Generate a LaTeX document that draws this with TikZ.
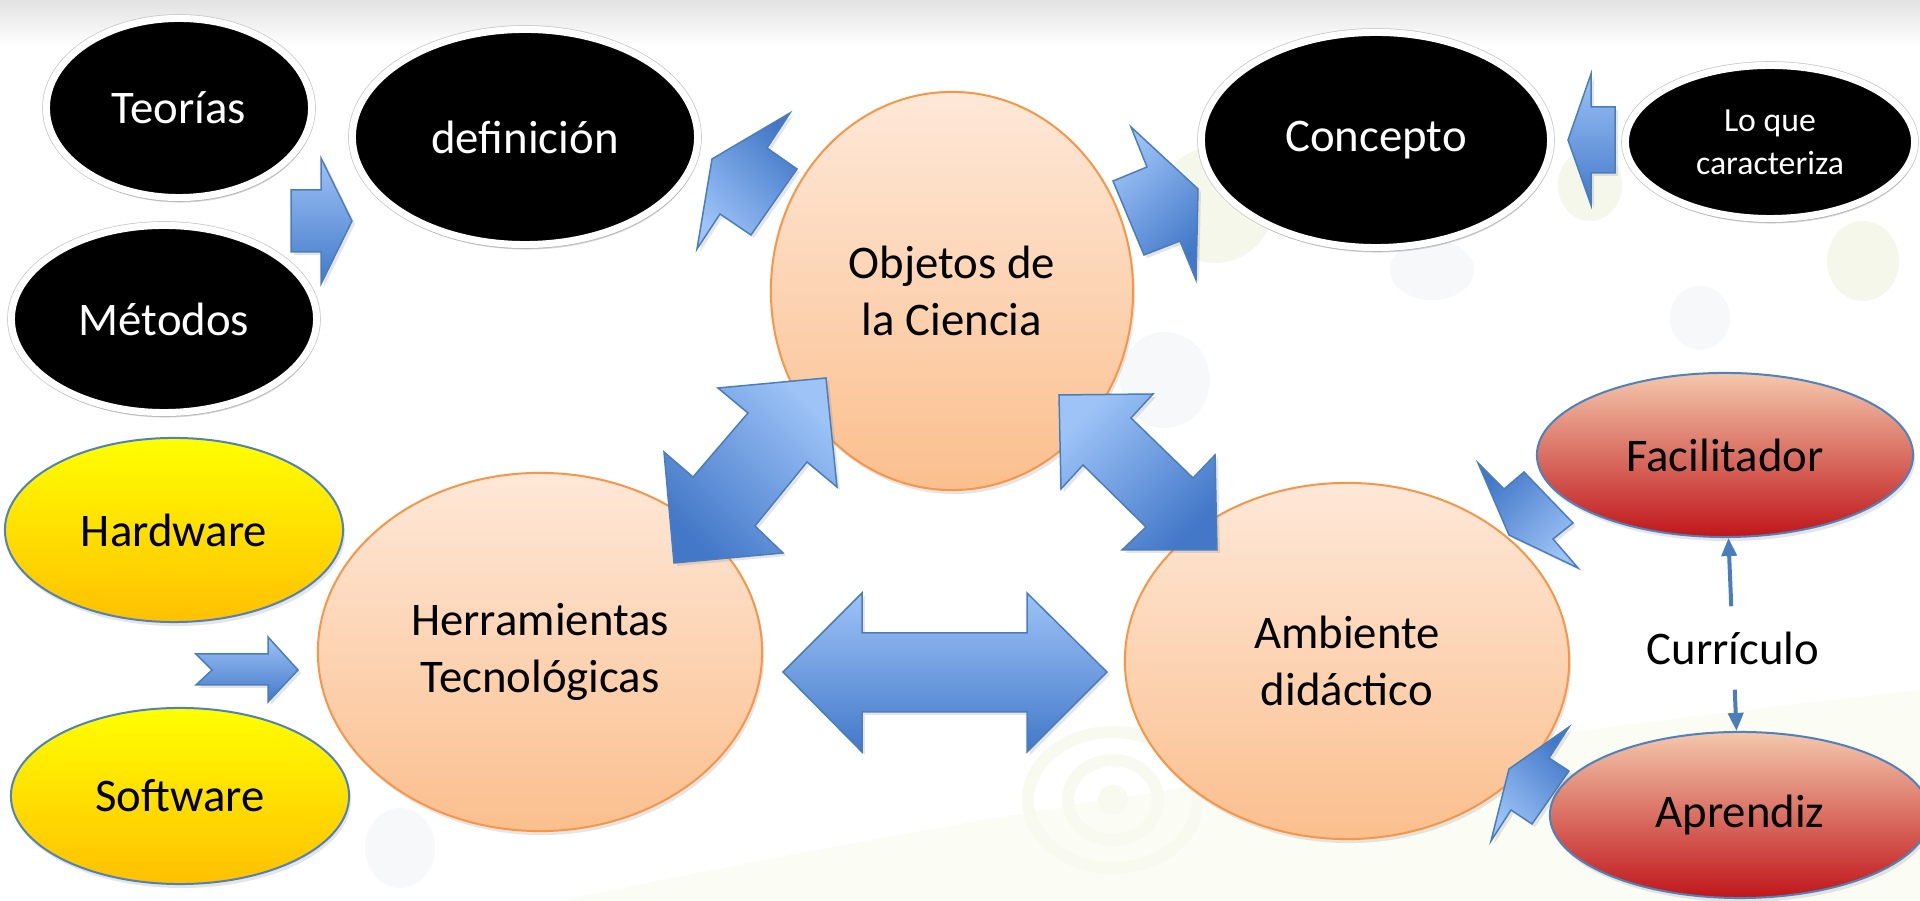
\documentclass[tikz,border=0pt]{standalone}
\usepackage{fontspec}
\setmainfont{Carlito}
\usetikzlibrary{shapes.geometric,shadows,arrows.meta}
\definecolor{arrowlight}{HTML}{9DC3F7}
\definecolor{arrowdark}{HTML}{4378C8}
\definecolor{arrowline}{HTML}{4A7EBB}
\definecolor{orangeline}{HTML}{F79646}
\definecolor{orangetop}{HTML}{FEE8D8}
\definecolor{orangebot}{HTML}{FBBF8E}
\definecolor{yellowtop}{HTML}{FFFF00}
\definecolor{yellowbot}{HTML}{FFC000}
\definecolor{blueline}{HTML}{4F81BD}
\definecolor{redtop}{HTML}{F4C8AC}
\definecolor{redbot}{HTML}{C0161A}
\definecolor{bgreen}{HTML}{F5F7EA}
\definecolor{bgray}{HTML}{F7F8FA}
\definecolor{bring}{HTML}{F8FAF0}
\definecolor{bswoosh}{HTML}{FBFCF4}
\definecolor{topgray}{HTML}{E2E2E2}
\begin{document}
\begin{tikzpicture}[x=0.01cm,y=-0.01cm,
  txt/.style={font=\fontsize{13.3}{16}\selectfont, align=center},
  blackell/.style={ellipse, txt, fill=black, draw=white, line width=0.07cm, text=white, inner sep=0pt,
    preaction={draw=black!22, line width=0.085cm},
    drop shadow={shadow xshift=0.015cm, shadow yshift=-0.05cm, opacity=0.3}},
  orangeell/.style={ellipse, txt, top color=orangetop, bottom color=orangebot, draw=orangeline,
    line width=0.02cm, inner sep=0pt, drop shadow={shadow xshift=0.02cm, shadow yshift=-0.04cm, opacity=0.2}},
  yellowell/.style={ellipse, txt, top color=yellowtop, bottom color=yellowbot, draw=blueline,
    line width=0.02cm, inner sep=0pt, drop shadow={shadow xshift=0.02cm, shadow yshift=-0.04cm, opacity=0.2}},
  redell/.style={ellipse, txt, top color=redtop, bottom color=redbot, draw=blueline,
    line width=0.02cm, inner sep=0pt, drop shadow={shadow xshift=0.02cm, shadow yshift=-0.04cm, opacity=0.2}},
  blockarr/.style={draw=arrowline, line width=0.015cm, line join=miter,
    drop shadow={shadow xshift=0.03cm, shadow yshift=-0.03cm, opacity=0.2}},
  thinarr/.style={draw=arrowline, line width=0.04cm, -{Triangle[length=0.18cm,width=0.15cm]}}
]
% background
\useasboundingbox (0,0) rectangle (1920,901);
\fill[white] (0,0) rectangle (1920,901);
\shade[top color=topgray, bottom color=white] (0,0) rectangle (1920,45);
\fill[bswoosh] (560,901) .. controls (900,830) and (1300,760) .. (1920,690) -- (1920,901) -- cycle;
\fill[bgreen] (1215,205) ellipse (58 and 58);
\fill[bgray] (1432,270) ellipse (42 and 30);
\fill[bgreen] (1590,185) ellipse (32 and 36);
\fill[bgray] (1700,318) ellipse (30 and 32);
\fill[bgreen] (1863,261) ellipse (36 and 40);
\fill[bgray] (1165,380) ellipse (45 and 48);
\fill[bgray] (400,848) ellipse (35 and 40);
\draw[bring, line width=0.12cm] (1113,800) ellipse (85 and 68);
\draw[bring, line width=0.12cm] (1113,800) ellipse (45 and 40);
\fill[bring] (1113,800) ellipse (15 and 15);

% nodes
\node[blackell, minimum width=2.65cm, minimum height=1.79cm] (teo) at (179,108) {Teorías};
\node[blackell, minimum width=3.45cm, minimum height=2.15cm] (defi) at (525,137) {definición};
\node[blackell, minimum width=3.05cm, minimum height=1.87cm] (met) at (164,319) {Métodos};
\node[blackell, minimum width=3.49cm, minimum height=2.15cm] (con) at (1376,140) {Concepto};
\node[blackell, minimum width=2.89cm, minimum height=1.53cm, font=\fontsize{9.6}{12.2}\selectfont] (loq) at (1770,142) {Lo que\\caracteriza};
\node[orangeell, minimum width=3.62cm, minimum height=3.98cm] (obj) at (952,291) {Objetos de\\la Ciencia};
\node[orangeell, minimum width=4.44cm, minimum height=3.58cm] (her) at (540,652) {Herramientas\\Tecnológicas};
\node[orangeell, minimum width=4.44cm, minimum height=3.56cm] (amb) at (1347,661) {Ambiente\\didáctico};
\node[yellowell, minimum width=3.38cm, minimum height=1.84cm] (hw) at (174,530) {Hardware};
\node[yellowell, minimum width=3.38cm, minimum height=1.76cm] (sw) at (180,796) {Software};
\node[redell, minimum width=3.76cm, minimum height=1.64cm] (fac) at (1725,455) {Facilitador};
\node[redell, minimum width=3.8cm, minimum height=1.66cm] (apr) at (1740,815) {Aprendiz};
\node[txt, inner sep=0pt, minimum height=0.82cm] (cur) at (1733,648) {Currículo};

% thin arrows
\draw[thinarr] (cur) -- (fac);
\draw[thinarr] (cur) -- (apr);

% block arrows
% Teorias/Metodos -> definicion
\path[blockarr, top color=arrowlight, bottom color=arrowdark]
  (291,190) -- (321,190) -- (321,158) -- (352,221) -- (321,284) -- (321,252) -- (291,252) -- cycle;
% Objetos -> definicion
\path[blockarr, top color=arrowdark, bottom color=arrowlight, shading angle=-45]
  (790,113) -- (767,148) -- (797,169) -- (751,235) -- (720,214) -- (697,249) -- (712,159) -- cycle;
% Objetos -> Concepto
\path[blockarr, top color=arrowlight, bottom color=arrowdark, shading angle=45]
  (1131,127) -- (1147,167) -- (1113,181) -- (1144,255) -- (1180,241) -- (1196,280) -- (1198,189) -- cycle;
% Lo que caracteriza -> Concepto
\path[blockarr, top color=arrowlight, bottom color=arrowdark]
  (1568,140) -- (1591,74) -- (1591,107) -- (1615,107) -- (1615,173) -- (1591,173) -- (1591,205) -- cycle;
% Objetos <-> Herramientas
\path[blockarr, top color=arrowlight, bottom color=arrowdark, shading angle=-45]
  (718,388) -- (826,378) -- (837,487) -- (807,462) -- (755,526) -- (783,553) -- (674,563) -- (664,452) -- (693,477) -- (748,413) -- cycle;
% Objetos <-> Ambiente
\path[blockarr, top color=arrowlight, bottom color=arrowdark, shading angle=45]
  (1059,395) -- (1153,394) -- (1131,418) -- (1193,478) -- (1215,455) -- (1217,550) -- (1122,550) -- (1146,527) -- (1083,465) -- (1061,489) -- cycle;
% Herramientas <-> Ambiente
\path[blockarr, top color=arrowlight, bottom color=arrowdark]
  (783,672) -- (862,593) -- (862,633) -- (1027,633) -- (1027,593) -- (1107,672) -- (1027,752) -- (1027,712) -- (862,712) -- (862,752) -- cycle;
% Hardware/Software -> Herramientas
\path[blockarr, top color=arrowlight, bottom color=arrowdark]
  (196,654) -- (268,654) -- (268,637) -- (298,670) -- (268,702) -- (268,685) -- (196,685) -- (212,670) -- cycle;
% Facilitador -> Ambiente
\path[blockarr, top color=arrowdark, bottom color=arrowlight, shading angle=45]
  (1478,463) -- (1504,489) -- (1524,472) -- (1573,523) -- (1553,539) -- (1578,568) -- (1509,535) -- cycle;
% Aprendiz -> Ambiente
\path[blockarr, top color=arrowdark, bottom color=arrowlight, shading angle=-45]
  (1569,727) -- (1549,758) -- (1569,771) -- (1532,824) -- (1511,810) -- (1491,841) -- (1509,769) -- cycle;
\end{tikzpicture}
\end{document}
